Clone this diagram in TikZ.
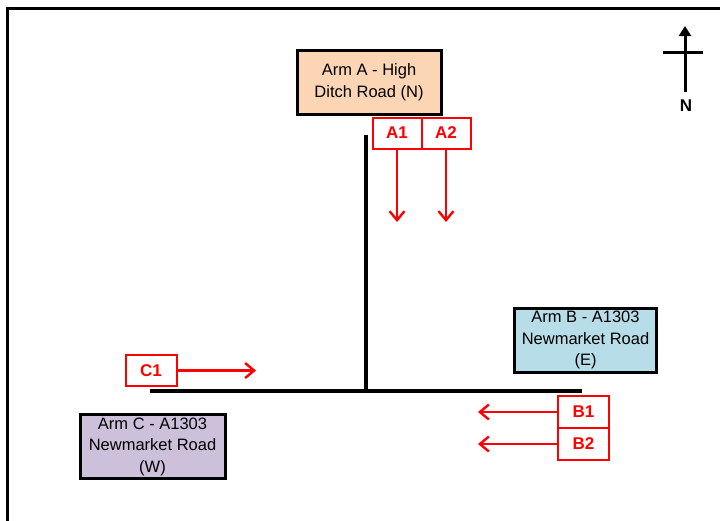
\documentclass[tikz,border=0pt]{standalone}
\usepackage{fontspec}
\setmainfont{Liberation Sans}
\usetikzlibrary{arrows.meta,positioning}
\definecolor{armpeach}{RGB}{252,213,180}
\definecolor{armblue}{RGB}{183,222,232}
\definecolor{armlilac}{RGB}{204,192,218}
\definecolor{lanered}{RGB}{255,0,0}
\tikzset{
  arm/.style={rectangle, draw=black, line width=3pt, minimum width=144pt,
              minimum height=64pt, inner sep=0pt, align=center,
              font=\fontsize{16.5}{21.5}\selectfont},
  lane/.style={rectangle, draw=lanered, line width=2pt, fill=white,
               minimum width=49pt, minimum height=31pt, inner sep=0pt,
               outer sep=0pt, text=lanered,
               font=\fontsize{17}{20}\selectfont\bfseries},
  flow/.style={draw=lanered, line width=2.4pt,
               -{Straight Barb[length=9pt,width=15pt,line width=2.4pt]}},
  road/.style={draw=black, line width=4pt}
}

\begin{document}
\begin{tikzpicture}[x=1pt, y=-1pt]
\useasboundingbox (0,0) rectangle (720,520);
% frame
\draw[line width=3pt] (7,525) -- (7,8) -- (725,8);
% north arrow
\coordinate (nbase) at (685,92);
\coordinate (ntip) at (685,26);
\draw[line width=3pt, -{Triangle[length=10pt,width=12pt]}] (nbase) -- (ntip);
\draw[line width=3pt] (663,52) -- (703,52);
\node[font=\fontsize{17}{20}\selectfont\bfseries, inner sep=0pt] (north) at (686,106) {N};

% roads
\coordinate (rtop) at (366,135);
\coordinate (rjoin) at (366,391);
\coordinate (rwest) at (150,391);
\coordinate (reast) at (582,391);
\draw[road] (rtop) -- (rjoin);
\draw[road] (rwest) -- (reast);

% arms
\node[arm, fill=armpeach] (armA) at (369,82) {Arm A - High\\Ditch Road (N)};
\node[arm, fill=armblue, minimum width=142pt] (armB) at (585.5,340)
  {Arm B - A1303\\Newmarket Road\\(E)};
\node[arm, fill=armlilac, minimum width=145pt] (armC) at (152.5,446.5)
  {Arm C - A1303\\Newmarket Road\\(W)};

% lanes
\node[lane] (A1) at (397,133) {A1};
\node[lane, right=0pt of A1] (A2) {A2};
\node[lane, minimum width=51pt] (C1) at (151,370.5) {C1};
\node[lane, minimum width=51pt, minimum height=32pt] (B1) at (583.5,412) {B1};
\node[lane, minimum width=51pt, minimum height=32pt, below=0pt of B1] (B2) {B2};

% movements
\coordinate (A1end) at (397,222);
\coordinate (A2end) at (A2.south |- A1end);
\coordinate (C1end) at (256,370.5);
\coordinate (B1end) at (478,412);
\coordinate (B2end) at (B2.west -| B1end);
\draw[flow] (A1.south) -- (A1end);
\draw[flow] (A2.south) -- (A2end);
\draw[flow] (C1.east) -- (C1end);
\draw[flow] (B1.west) -- (B1end);
\draw[flow] (B2.west) -- (B2end);
\end{tikzpicture}
\end{document}
